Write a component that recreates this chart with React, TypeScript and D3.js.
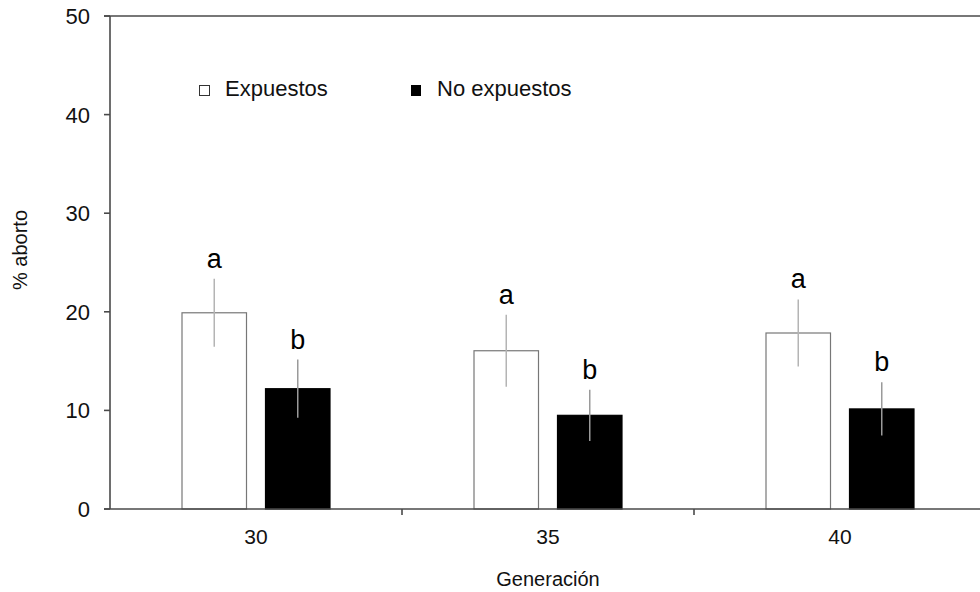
import React from "react";
import * as d3 from "d3";

// Generations on the x axis
const generations = ["30", "35", "40"];
// Series names (legend order)
const seriesNames = ["Expuestos", "No expuestos"];
// Mean % abortion per generation
const expuestos = [19.9, 16.05, 17.85];
const noExpuestos = [12.2, 9.5, 10.15];
// Error magnitudes
const expuestosErr = [3.45, 3.65, 3.4];
const noExpuestosErr = [2.95, 2.6, 2.7];
// Significance letters
const expuestosLetters = ["a", "a", "a"];
const noExpuestosLetters = ["b", "b", "b"];
// Y axis ticks
const yTicks = [0, 10, 20, 30, 40, 50];

const W = 980;
const H = 592;
const left = 110;
const right = 986;
const top = 16;
const bottom = 509;
const FONT = "'Liberation Sans', Arial, Helvetica, sans-serif";

export default function App() {
  const x = d3.scaleBand<string>().domain(generations).range([left, right]).padding(0);
  const inner = d3
    .scaleBand<string>()
    .domain(seriesNames)
    .range([0, 149])
    .paddingInner(0.2156)
    .paddingOuter(0);
  const y = d3.scaleLinear().domain([0, 50]).range([bottom, top]);

  const series = [
    { name: seriesNames[0], values: expuestos, errs: expuestosErr, letters: expuestosLetters, fill: "#ffffff", stroke: "#777777", err: "#b4b4b4" },
    { name: seriesNames[1], values: noExpuestos, errs: noExpuestosErr, letters: noExpuestosLetters, fill: "#000000", stroke: "#000000", err: "#9a9a9a" },
  ];

  const groupOffset = (x.bandwidth() - 149) / 2;
  const axisColor = "#4a4a4a";

  return (
    <svg
      width={W}
      height={H}
      style={{ position: "absolute", left: 0, top: 0, background: "#fff" }}
      fontFamily={FONT}
    >
      {/* bars */}
      {generations.map((g, gi) => (
        <g key={g} transform={`translate(${(x(g) ?? 0) + groupOffset},0)`}>
          {series.map((s) => {
            const bx = inner(s.name) ?? 0;
            const bw = inner.bandwidth();
            const v = s.values[gi];
            const e = s.errs[gi];
            const cx = bx + bw / 2;
            return (
              <g key={s.name}>
                <rect
                  x={bx + 0.5}
                  y={y(v)}
                  width={bw - 1}
                  height={y(0) - y(v)}
                  fill={s.fill}
                  stroke={s.stroke}
                  strokeWidth={1.2}
                />
                <line x1={cx} x2={cx} y1={y(v + e)} y2={y(v - e)} stroke={s.err} strokeWidth={1.5} />
                <text x={cx} y={y(v + e) - 11} textAnchor="middle" fontSize={27} fill="#000">
                  {s.letters[gi]}
                </text>
              </g>
            );
          })}
        </g>
      ))}

      {/* axes frame */}
      <line x1={left} x2={left} y1={top} y2={bottom} stroke={axisColor} strokeWidth={1.6} />
      <line x1={left - 6} x2={right} y1={top} y2={top} stroke={axisColor} strokeWidth={1.6} />
      <line x1={left - 6} x2={right} y1={bottom} y2={bottom} stroke={axisColor} strokeWidth={1.6} />

      {/* y ticks */}
      {yTicks.map((t) => (
        <g key={t}>
          <line x1={left - 6} x2={left} y1={y(t)} y2={y(t)} stroke={axisColor} strokeWidth={1.6} />
          <text x={90} y={y(t)} dy="0.36em" textAnchor="end" fontSize={22} fill="#111">
            {t}
          </text>
        </g>
      ))}

      {/* x ticks at category boundaries */}
      {generations.slice(1).map((g) => (
        <line key={g} x1={x(g)} x2={x(g)} y1={bottom} y2={bottom + 6} stroke={axisColor} strokeWidth={1.6} />
      ))}
      {generations.map((g) => (
        <text key={g} x={(x(g) ?? 0) + x.bandwidth() / 2} y={544} textAnchor="middle" fontSize={21} fill="#111">
          {g}
        </text>
      ))}

      {/* axis titles */}
      <text x={(left + right) / 2} y={586} textAnchor="middle" fontSize={20} fill="#111">
        Generación
      </text>
      <text transform="translate(27,250) rotate(-90)" textAnchor="middle" fontSize={20} fill="#111">
        % aborto
      </text>

      {/* legend */}
      <rect x={199.5} y={85.5} width={10} height={10} fill="#fff" stroke="#333" strokeWidth={1} />
      <text x={225} y={96} fontSize={22} fill="#111">
        {seriesNames[0]}
      </text>
      <rect x={411} y={85} width={10} height={11} fill="#000" />
      <text x={437} y={96} fontSize={22} fill="#111">
        {seriesNames[1]}
      </text>
    </svg>
  );
}
